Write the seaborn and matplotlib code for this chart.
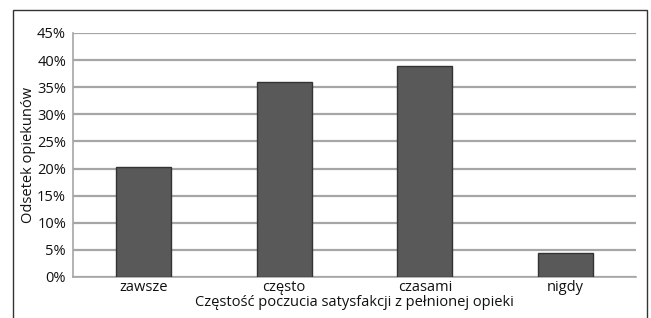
import matplotlib
matplotlib.use("Agg")
import matplotlib.pyplot as plt
import matplotlib.patches as patches
from matplotlib.ticker import PercentFormatter, MultipleLocator
import pandas as pd
import seaborn as sns

# dane
categories = ["zawsze", "często", "czasami", "nigdy"]
shares = [20.2, 35.9, 39.0, 4.4]

df = pd.DataFrame({"odp": categories, "proc": shares})

sns.set_style("white")
plt.rcParams["font.family"] = ["Open Sans", "DejaVu Sans"]

fig = plt.figure(figsize=(6.51, 3.18), dpi=100)
ax = fig.add_axes([73 / 651, 41 / 318, 563 / 651, 244 / 318])

sns.barplot(data=df, x="odp", y="proc", color="#595959", width=0.39,
            edgecolor="#333333", linewidth=1.0, saturation=1, ax=ax, zorder=3)

ax.set_ylim(0, 45)
ax.set_xlim(-0.5, 3.5)
ax.yaxis.set_major_locator(MultipleLocator(5))
ax.yaxis.set_major_formatter(PercentFormatter(decimals=0))
ax.grid(axis="y", color="#a6a6a6", linewidth=1.6, zorder=0)
ax.set_axisbelow(True)

for s in ["top", "right"]:
    ax.spines[s].set_visible(False)
for s in ["left", "bottom"]:
    ax.spines[s].set_color("#a6a6a6")
    ax.spines[s].set_linewidth(1.2)

# krotkie kreski na granicach kategorii
ax.set_xticks([-0.5, 0.5, 1.5, 2.5, 3.5], minor=True)
ax.tick_params(axis="x", which="minor", length=4, color="#a6a6a6", width=1)
ax.tick_params(axis="x", which="major", length=0, labelsize=10.5, pad=2,
               labelcolor="#111111")
ax.tick_params(axis="y", length=4, color="#a6a6a6", width=1, labelsize=10.5,
               pad=1, labelcolor="#111111")

ax.set_xlabel("Częstość poczucia satysfakcji z pełnionej opieki", fontsize=10.5,
              labelpad=0, color="#111111")
ax.set_ylabel("Odsetek opiekunów", fontsize=10.5, labelpad=1, color="#111111")

# ramka wokol calego wykresu
frame = patches.Rectangle((13 / 651, -0.05), 634 / 651, 1.05 - 10 / 318,
                          transform=fig.transFigure, fill=False,
                          edgecolor="#333333", linewidth=1.0, clip_on=False)
fig.patches.append(frame)

fig.savefig("out.png", dpi=100)
